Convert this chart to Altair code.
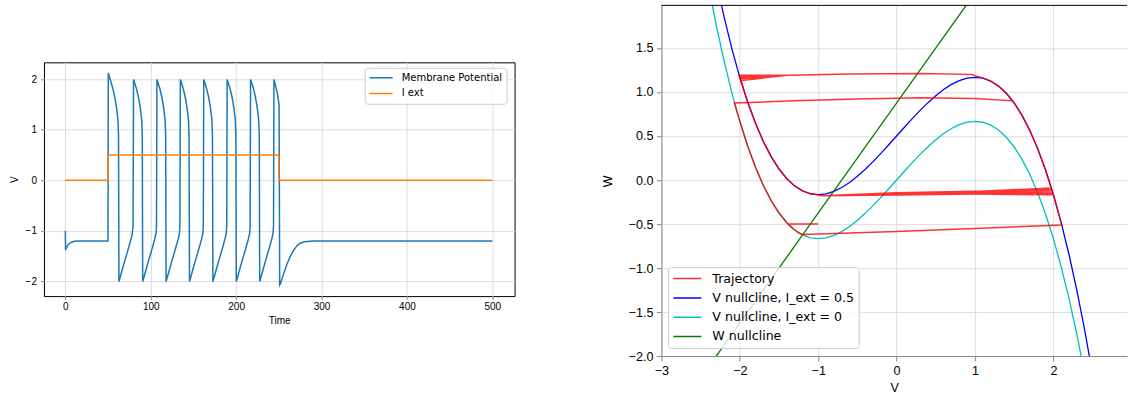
import altair as alt
import pandas as pd

# ---------------- left panel: time series ----------------
time_vals = [0.0, 0.3, 2.0, 4.0, 7.0, 11.0, 16.0, 50.0,
             50.3, 52.0, 54.0, 56.0, 58.0, 60.0, 61.6, 62.3, 62.8,
             66.2, 70.2, 74.2, 77.0, 78.5, 79.3,
             79.9, 81.6, 83.6, 85.6, 87.6, 89.4, 90.1, 90.6,
             94.0, 98.0, 102.0, 104.8, 106.3, 106.8,
             107.3, 109.0, 111.0, 113.0, 115.0, 116.8, 117.5, 118.0,
             121.4, 125.4, 129.4, 132.2, 133.7, 134.2,
             134.7, 136.4, 138.4, 140.4, 142.4, 144.2, 144.9, 145.4,
             148.8, 152.8, 156.8, 159.6, 161.1, 161.6,
             162.1, 163.8, 165.8, 167.8, 169.8, 171.6, 172.3, 172.8,
             176.2, 180.2, 184.2, 187.0, 188.5, 189.0,
             189.5, 191.2, 193.2, 195.2, 197.2, 199.0, 199.7, 200.2,
             203.6, 207.6, 211.6, 214.4, 215.9, 216.4,
             216.9, 218.6, 220.6, 222.6, 224.6, 226.4, 227.1, 227.6,
             231.0, 235.0, 239.0, 241.8, 243.3, 243.8,
             244.3, 246.0, 248.0, 249.8, 250.3, 251.0,
             252.0, 255.0, 259.0, 263.0, 267.0, 271.0, 275.0, 280.0, 290.0, 500.0]
v_vals = [-1.0, -1.38, -1.31, -1.26, -1.225, -1.205, -1.2, -1.2,
          2.12, 2.02, 1.91, 1.79, 1.63, 1.43, 1.2, 0.9, -2.0,
          -1.8, -1.56, -1.33, -1.16, -1.04, -0.9,
          1.99, 1.9, 1.79, 1.64, 1.45, 1.2, 0.9, -2.0,
          -1.8, -1.56, -1.33, -1.16, -1.04, -0.9,
          1.99, 1.9, 1.79, 1.64, 1.45, 1.2, 0.9, -2.0,
          -1.8, -1.56, -1.33, -1.16, -1.04, -0.9,
          1.99, 1.9, 1.79, 1.64, 1.45, 1.2, 0.9, -2.0,
          -1.8, -1.56, -1.33, -1.16, -1.04, -0.9,
          1.99, 1.9, 1.79, 1.64, 1.45, 1.2, 0.9, -2.0,
          -1.8, -1.56, -1.33, -1.16, -1.04, -0.9,
          1.99, 1.9, 1.79, 1.64, 1.45, 1.2, 0.9, -2.0,
          -1.8, -1.56, -1.33, -1.16, -1.04, -0.9,
          1.99, 1.9, 1.79, 1.64, 1.45, 1.2, 0.9, -2.0,
          -1.8, -1.56, -1.33, -1.16, -1.04, -0.9,
          1.99, 1.88, 1.74, 1.55, 1.48, -2.07,
          -2.04, -1.88, -1.68, -1.52, -1.39, -1.3, -1.245, -1.215, -1.2, -1.2]
iext_t = [0, 50, 50, 250, 250, 500]
iext_v = [0.0, 0.0, 0.5, 0.5, 0.0, 0.0]
left_series = ["Membrane Potential", "I ext"]
left_colors = ["#1f77b4", "#ff7f0e"]
left_xticks = [0, 100, 200, 300, 400, 500]
left_yticks = [-2, -1, 0, 1, 2]

# ---------------- right panel: phase plane ----------------
cubic_V = [round(-2.5 + 0.1 * i, 1) for i in range(51)]
vnull_05_W = [3.2083, 2.708, 2.2557, 1.8493, 1.487, 1.1667, 0.8863, 0.644, 0.4377, 0.2653,
              0.125, 0.0147, -0.0677, -0.124, -0.1563, -0.1667, -0.157, -0.1293, -0.0857, -0.028,
              0.0417, 0.1213, 0.209, 0.3027, 0.4003, 0.5, 0.5997, 0.6973, 0.791, 0.8787,
              0.9583, 1.028, 1.0857, 1.1293, 1.157, 1.1667, 1.1563, 1.124, 1.0677, 0.9853,
              0.875, 0.7347, 0.5623, 0.356, 0.1137, -0.1667, -0.487, -0.8493, -1.2557, -1.708,
              -2.2083]
vnull_0_W = [2.7083, 2.208, 1.7557, 1.3493, 0.987, 0.6667, 0.3863, 0.144, -0.0623, -0.2347,
             -0.375, -0.4853, -0.5677, -0.624, -0.6563, -0.6667, -0.657, -0.6293, -0.5857, -0.528,
             -0.4583, -0.3787, -0.291, -0.1973, -0.0997, 0.0, 0.0997, 0.1973, 0.291, 0.3787,
             0.4583, 0.528, 0.5857, 0.6293, 0.657, 0.6667, 0.6563, 0.624, 0.5677, 0.4853,
             0.375, 0.2347, 0.0623, -0.144, -0.3863, -0.6667, -0.987, -1.3493, -1.7557, -2.208,
             -2.7083]
wnull_V = [-2.5, 1.0]
wnull_W = [-2.25, 2.125]

traj_init_V = [-1.0, -1.385, -1.35, -1.3, -1.25, -1.22, -1.2]
traj_init_W = [-0.5, -0.5, -0.53, -0.568, -0.599, -0.615, -0.62]
first_jump_V = [0.0, 1.0, 2.107]
first_jump_W = [-0.585, -0.55, -0.511]
right_branch_V = [2.1, 2.0, 1.9, 1.8, 1.7, 1.6, 1.5, 1.4, 1.3, 1.2, 1.1, 1.0, 0.95]
right_branch_W = [-0.487, -0.167, 0.114, 0.356, 0.562, 0.735, 0.875, 0.985, 1.068, 1.124, 1.16, 1.185, 1.2]
top_jump_V = [0.3, -0.6, -1.4]
top_jump_W = [1.21, 1.205, 1.19]
top_land_V = [-2.01, -2.0, -1.99, -1.985, -2.005, -1.995, -2.0]
top_land_W = [1.19, 1.17, 1.15, 1.13, 1.18, 1.16, 1.17]
left_branch_V = [-1.95, -1.9, -1.8, -1.7, -1.6, -1.5, -1.4, -1.3, -1.2, -1.1, -1.0, -0.95]
left_branch_W = [1.022, 0.886, 0.644, 0.438, 0.265, 0.125, 0.015, -0.068, -0.124, -0.156, -0.17, -0.178]
bottom_mid_W = [-0.165, -0.155, -0.17, -0.15, -0.16, -0.145, -0.16]
bottom_mid2_W = [-0.15, -0.135, -0.16, -0.13, -0.145, -0.128, -0.145]
bottom_land_V = [1.99, 1.98, 2.0, 1.975, 1.995, 1.985, 1.99]
bottom_land_W = [-0.137, -0.107, -0.167, -0.092, -0.152, -0.122, -0.137]
last_right_V = [1.9, 1.8, 1.7, 1.6, 1.5, 1.48]
last_right_W = [0.114, 0.356, 0.562, 0.735, 0.875, 0.899]
last_jump_V = [1.0, 0.3, -0.5, -1.3, -2.07]
last_jump_W = [0.925, 0.935, 0.92, 0.9, 0.875]
last_left_V = [-2.0, -1.9, -1.8, -1.7, -1.6, -1.5, -1.4, -1.3, -1.25, -1.2]
last_left_W = [0.667, 0.386, 0.144, -0.062, -0.235, -0.375, -0.485, -0.568, -0.599, -0.62]

right_series = ["Trajectory", "V nullcline, I_ext = 0.5", "V nullcline, I_ext = 0", "W nullcline"]
right_colors = ["rgba(255,0,0,0.8)", "#0000ff", "#00bfbf", "#008000"]
right_xticks = [-3, -2, -1, 0, 1, 2]
right_yticks = [-2.0, -1.5, -1.0, -0.5, 0.0, 0.5, 1.0, 1.5]

FONT = "DejaVu Sans"
LW, LH = 471, 234
RW, RH = 466, 351

# ---------- build tables ----------
mp_df = pd.DataFrame({"t": time_vals, "val": v_vals, "series_l": left_series[0],
                      "k": range(len(time_vals))})
ie_df = pd.DataFrame({"t": iext_t, "val": iext_v, "series_l": left_series[1],
                      "k": range(len(iext_t))})

pv, pw = list(traj_init_V) + first_jump_V + right_branch_V, list(traj_init_W) + first_jump_W + right_branch_W
for k in range(7):
    pv += top_jump_V + [top_land_V[k]] + left_branch_V + [0.0, 1.0, bottom_land_V[k]]
    pw += top_jump_W + [top_land_W[k]] + left_branch_W + [bottom_mid_W[k], bottom_mid2_W[k], bottom_land_W[k]]
    if k < 6:
        pv += right_branch_V[2:]
        pw += right_branch_W[2:]
    else:
        pv += last_right_V
        pw += last_right_W
pv += last_jump_V + last_left_V
pw += last_jump_W + last_left_W
traj_df = pd.DataFrame({"V": pv, "W": pw, "series_r": right_series[0], "k": range(len(pv))})

null_df = pd.concat([
    pd.DataFrame({"V": cubic_V, "W": vnull_05_W, "series_r": right_series[1], "k": range(len(cubic_V))}),
    pd.DataFrame({"V": cubic_V, "W": vnull_0_W, "series_r": right_series[2], "k": range(len(cubic_V))}),
    pd.DataFrame({"V": wnull_V, "W": wnull_W, "series_r": right_series[3], "k": range(len(wnull_V))}),
])

# ---------- left chart ----------
lx = alt.X("t:Q", scale=alt.Scale(domain=[-25, 526], nice=False, zero=False),
           axis=alt.Axis(values=left_xticks, title="Time", labelFontSize=10, titleFontSize=10,
                         titleFontWeight="normal", tickSize=3.5, labelPadding=2, titlePadding=4,
                         domain=False, format="d", labelFlush=False))
ly = alt.Y("val:Q", scale=alt.Scale(domain=[-2.29, 2.33], nice=False, zero=False),
           axis=alt.Axis(values=left_yticks, title="V", labelFontSize=10, titleFontSize=10,
                         titleFontWeight="normal", tickSize=3.5, labelPadding=4, titlePadding=6,
                         domain=False, format="d", labelFlush=False))
lcolor = alt.Color("series_l:N", scale=alt.Scale(domain=left_series, range=left_colors),
                   legend=alt.Legend(title=None, orient="none", legendX=321, legendY=62.5,
                                     labelFont=FONT, labelFontSize=10, labelColor="black",
                                     symbolType="stroke", symbolSize=529, symbolStrokeWidth=1.5,
                                     labelOffset=8, padding=4, clipHeight=12, rowPadding=3.7,
                                     fillColor="rgba(255,255,255,0.8)", strokeColor="#cccccc",
                                     cornerRadius=3))
left = alt.layer(
    alt.Chart(mp_df).mark_line(strokeWidth=1.5).encode(x=lx, y=ly, color=lcolor, order="k:Q"),
    alt.Chart(ie_df).mark_line(strokeWidth=1.5).encode(x=lx, y=ly, color=lcolor, order="k:Q"),
).properties(width=LW, height=LH, view=alt.ViewBackground(stroke="black", strokeWidth=1))

spacer = alt.Chart(pd.DataFrame({"a": [0]})).mark_rule(strokeOpacity=0, strokeWidth=0.01).encode(
    x=alt.value(0), x2=alt.value(1), y=alt.value(0)
).properties(width=LW, height=55.3, view=alt.ViewBackground(stroke="transparent"))

# ---------- right chart ----------
rx = alt.X("V:Q", scale=alt.Scale(domain=[-3, 2.939], nice=False, zero=False),
           axis=alt.Axis(values=right_xticks, title="V", labelFontSize=12.6, titleFontSize=12.6,
                         titleFontWeight="normal", tickSize=5, labelPadding=3, titlePadding=5,
                         format="d", labelFlush=False))
ry = alt.Y("W:Q", scale=alt.Scale(domain=[-2, 1.984], nice=False, zero=False),
           axis=alt.Axis(values=right_yticks, title="W", labelFontSize=12.6, titleFontSize=12.6,
                         titleFontWeight="normal", tickSize=5, labelPadding=3.5, titlePadding=13.5,
                         format=".1f", labelFlush=False))
rcolor = alt.Color("series_r:N", scale=alt.Scale(domain=right_series, range=right_colors),
                   legend=alt.Legend(title=None, orient="none", legendX=6.5, legendY=262,
                                     labelFont=FONT, labelFontSize=12.6, labelColor="black",
                                     symbolType="stroke", symbolSize=784, symbolStrokeWidth=1.5,
                                     labelOffset=10, padding=4.5, clipHeight=14, rowPadding=5.3,
                                     fillColor="rgba(255,255,255,0.8)", strokeColor="#cccccc",
                                     cornerRadius=3))
top_rule = alt.Chart(pd.DataFrame({"a": [0]})).mark_rule(color="black", strokeWidth=1).encode(
    x=alt.value(0), x2=alt.value(RW), y=alt.value(0))
right = alt.layer(
    alt.Chart(null_df).mark_line(strokeWidth=1.3, clip=True).encode(x=rx, y=ry, color=rcolor, order="k:Q"),
    alt.Chart(traj_df).mark_line(strokeWidth=1.5, clip=True).encode(x=rx, y=ry, color=rcolor, order="k:Q"),
    top_rule,
).properties(width=RW, height=RH, view=alt.ViewBackground(stroke="transparent"))

left_col = alt.vconcat(spacer, left, spacing=0)
chart = alt.hconcat(left_col, right, spacing=85).resolve_scale(
    color="independent"
).properties(
    padding={"left": 8, "top": 4.2, "right": 0, "bottom": 0}
).configure_axis(
    labelFont=FONT, titleFont=FONT, labelColor="black", titleColor="black",
    tickColor="black", domainColor="black", gridColor="#b0b0b0", gridWidth=1,
    titleFontWeight="normal", tickWidth=1, domainWidth=1,
).configure(background="white")

chart.save("out.html", embed_options={"renderer": "svg", "actions": False})
